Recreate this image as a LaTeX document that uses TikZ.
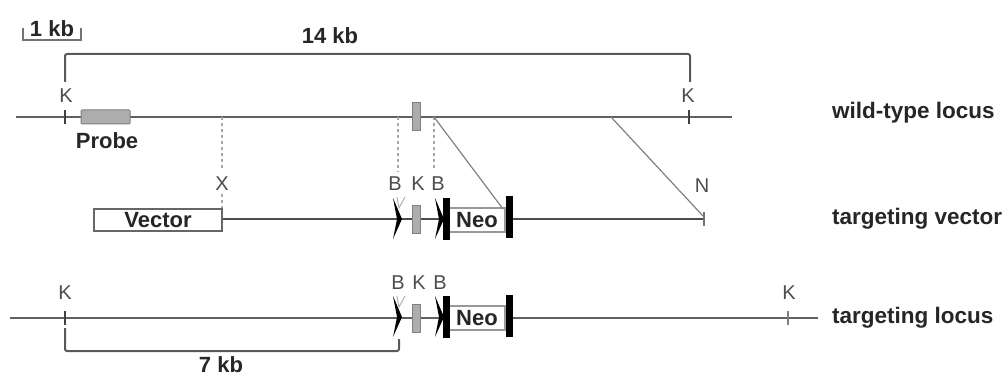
\documentclass[tikz,border=0pt]{standalone}
\usepackage{fontspec}
\setmainfont{Liberation Sans}
\usetikzlibrary{positioning}
\definecolor{linegray}{gray}{0.38}
\definecolor{exongray}{gray}{0.68}
\tikzset{
  lbl/.style = {inner sep = 0pt, font = \fontsize{20}{20}\selectfont, text = black!70},
  boldlbl/.style = {inner sep = 0pt, font = \bfseries\fontsize{22}{22}\selectfont, text = black!85},
  side/.style = {boldlbl, anchor = west, font = \bfseries\fontsize{22.5}{22.5}\selectfont},
  dna/.style = {draw = linegray, line width = 2.4pt},
  brace/.style = {draw = black!65, line width = 2pt, rounded corners = 2pt},
  thin line/.style = {draw = black!50, line width = 1.2pt},
  exon/.style = {draw = black!50, fill = exongray, line width = 1pt, inner sep = 0pt, minimum width = 8pt, minimum height = 28pt},
  bar/.style = {fill = black, inner sep = 0pt, minimum width = 7pt, minimum height = 42pt},
  tick/.style = {fill = black!75, inner sep = 0pt, minimum width = 2.2pt, minimum height = 14pt},
  box/.style = {draw = black!60, fill = white, line width = 1.2pt, inner sep = 0pt, minimum height = 22pt, font = \bfseries\fontsize{22}{22}\selectfont, text = black!85},
  guide/.style = {draw = black!35, line width = 1.2pt, dashed}
}
\newcommand{\loxsite}[2]{\fill[black] (#1-5,#2-21) -- (#1+4,#2) -- (#1-5,#2+20) -- (#1-1,#2) -- cycle;}
\begin{document}
\begin{tikzpicture}[x=1pt, y=-1pt]
\useasboundingbox (0,0) rectangle (1007,377);
% wild-type locus
\coordinate (a1) at (16,117);
\coordinate (a2) at (732,117);
\draw[dna] (a1) -- (a2);
\node[tick] (k1) at (65,117) {};
\node[tick] (k2) at (689,117) {};
\node[exon, minimum width = 49pt, minimum height = 14pt, rounded corners = 1pt] (probe) at (105.5,117) {};
\node[exon] (e1) at (416,117) {};
\node[lbl] (k1t) at (66,96) {K};
\node[lbl] (k2t) at (688,96) {K};
\node[boldlbl] (probet) at (107,141) {Probe};
\node[side] (s1) at (832,113) {wild-type locus};
% targeting vector
\coordinate (b1) at (222,219);
\coordinate (b2) at (704,219);
\draw[thin line, draw = black!70, line width = 1.6pt] (b1) -- (b2);
\node[box, minimum width = 128pt] (vector) at (158,220) {Vector};
\node[tick, minimum width = 1.5pt, fill = black!55] (n1) at (704,219) {};
\node[box, draw = black!40, minimum width = 56pt, minimum height = 24pt] (neo1) at (477,220) {Neo};
\node[exon] (e2) at (416,219) {};
\node[bar] (l1) at (446,219) {};
\node[bar] (r1) at (509,217) {};
\loxsite{398}{219}
\loxsite{440}{219}
\node[lbl] (bt1) at (395,184) {B};
\node[lbl] (kt1) at (418,184) {K};
\node[lbl] (bt2) at (438,184) {B};
\node[lbl] (xt) at (222,184) {X};
\node[lbl] (nt) at (702,186) {N};
\node[side] (s2) at (832,219) {targeting vector};
% targeting locus
\coordinate (c1) at (10,318);
\coordinate (c2) at (818,318);
\draw[dna, line width = 2pt] (c1) -- (c2);
\node[tick] (k3) at (65,318) {};
\node[tick, minimum width = 1.5pt, fill = black!50] (k4) at (788,318) {};
\node[box, draw = black!40, minimum width = 56pt, minimum height = 24pt] (neo2) at (477,318) {Neo};
\node[exon] (e3) at (416,318) {};
\node[bar] (l2) at (446,317) {};
\node[bar] (r2) at (509,316) {};
\loxsite{398}{317}
\loxsite{440}{317}
\node[lbl] (k3t) at (65,293) {K};
\node[lbl] (k4t) at (789,293) {K};
\node[lbl] (bt3) at (398,283) {B};
\node[lbl] (kt2) at (419,283) {K};
\node[lbl] (bt4) at (440,283) {B};
\node[side] (s3) at (832,318) {targeting locus};
% guide lines
\coordinate (d1) at (222,117);
\coordinate (d2) at (222,170);
\coordinate (d3) at (398,117);
\coordinate (d4) at (398,172);
\coordinate (d5) at (434,117);
\coordinate (d6) at (434,171);
\coordinate (d7) at (222,194);
\coordinate (d8) at (222,208);
\draw[guide] (d1) -- (d2);
\draw[guide] (d7) -- (d8);
\draw[guide] (d3) -- (d4);
\draw[guide] (d5) -- (d6);
\coordinate (f1) at (503,209);
\coordinate (f2) at (611,117);
\coordinate (f3) at (703,216);
\draw[thin line] (d5) -- (f1);
\draw[thin line] (f2) -- (f3);
\coordinate (g1) at (397,197);
\coordinate (g2) at (405,197);
\coordinate (g3) at (399,208);
\draw[draw = black!30, line width = 1pt] (g1) -- (g3) -- (g2);
\coordinate (g4) at (397,296);
\coordinate (g5) at (405,296);
\coordinate (g6) at (399,307);
\draw[draw = black!30, line width = 1pt] (g4) -- (g6) -- (g5);
% scale brackets
\coordinate (h1) at (23,28);
\coordinate (h2) at (23,40);
\coordinate (h3) at (81,40);
\coordinate (h4) at (81,28);
\draw[draw = black!55, line width = 1.2pt] (h1) -- (h2) -- (h3) -- (h4);
\node[boldlbl] (t1) at (52,29) {1 kb};
\coordinate (i1) at (65,82);
\coordinate (i2) at (65,54);
\coordinate (i3) at (690,54);
\coordinate (i4) at (690,82);
\draw[brace] (i1) -- (i2) -- (i3) -- (i4);
\node[boldlbl] (t2) at (330,36) {14 kb};
\coordinate (j1) at (65,328);
\coordinate (j2) at (65,351);
\coordinate (j3) at (399,351);
\coordinate (j4) at (399,339);
\draw[brace] (j1) -- (j2) -- (j3) -- (j4);
\node[boldlbl] (t3) at (221,365) {7 kb};
\end{tikzpicture}
\end{document}
